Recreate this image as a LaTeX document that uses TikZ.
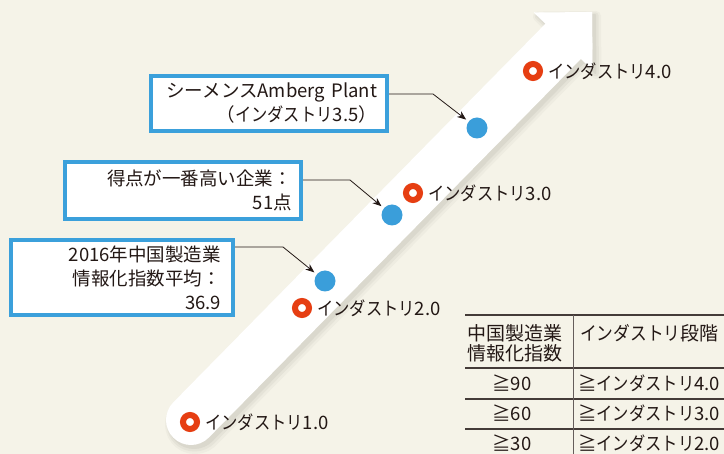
\documentclass[tikz,border=0pt]{standalone}
\usepackage{fontspec}
\setmainfont{Noto Sans CJK JP}
\newfontfamily\kanafont[FakeStretch=0.88]{Noto Sans CJK JP}
\newcommand\kn[1]{{\kanafont #1}}
\usetikzlibrary{arrows.meta}
\definecolor{bg}{RGB}{245,243,232}
\definecolor{sha}{RGB}{238,236,225}
\definecolor{shb}{RGB}{229,227,216}
\definecolor{shc}{RGB}{218,216,205}
\definecolor{boxblue}{RGB}{59,160,219}
\definecolor{dotblue}{RGB}{58,158,218}
\definecolor{ringred}{RGB}{230,62,18}
\definecolor{ink}{RGB}{35,24,21}
\newcommand\bandshape[4]{%
  \begin{scope}[shift={(#1,#1)}]
    \draw[#4,line width=#2pt,line cap=round] (191,420) -- (563.22,41.29);
    \filldraw[#4,line width=#3pt,line join=round] (533.98,12.55) -- (592,12) -- (592.46,70.03) -- cycle;
  \end{scope}}
\begin{document}
\begin{tikzpicture}[x=1pt,y=-1pt,
  box/.style={draw=boxblue,line width=4pt,fill=white,align=right,inner ysep=0pt,
    font=\fontsize{18.5}{24}\selectfont,text=ink},
  ringnode/.style={circle,draw=ringred,line width=6pt,fill=white,minimum size=14pt,inner sep=0pt},
  dotnode/.style={circle,fill=dotblue,minimum size=21pt,inner sep=0pt},
  conn/.style={draw=ink,line width=0.8pt,-{Stealth[length=9pt,width=7pt]},shorten >=3pt},
  lbl/.style={font=\fontsize{18.5}{22}\selectfont,text=ink,inner sep=0pt},
  rule/.style={draw=ink!85,line width=1.3pt},
  vrule/.style={draw=ink!70,line width=0.9pt},
  cell/.style={font=\fontsize{18.5}{20}\selectfont,text=ink,inner sep=0pt},
  hcell/.style={font=\fontsize{19}{20}\selectfont,text=ink,inner sep=0pt}]
\useasboundingbox (0,0) rectangle (724,454);
\clip (0,0) rectangle (724,454);
\fill[bg] (0,0) rectangle (724,454);
% band with soft shadow
\bandshape{4}{60}{10}{sha}
\bandshape{3.5}{56}{6}{shb}
\bandshape{3}{52}{2}{shc}
\bandshape{0}{50}{0.1}{white}
% rings
\node[ringnode,label={[lbl,label distance=5pt]right:\kn{インダストリ}1.0}] (r1) at (190,422) {};
\node[ringnode,label={[lbl,label distance=5pt]right:\kn{インダストリ}2.0}] (r2) at (302,308) {};
\node[ringnode,label={[lbl,label distance=5pt]right:\kn{インダストリ}3.0}] (r3) at (413,193) {};
\node[ringnode,label={[lbl,label distance=5pt]right:\kn{インダストリ}4.0}] (r4) at (533,71) {};
% dots
\node[dotnode] (d1) at (325,281) {};
\node[dotnode] (d2) at (392,215) {};
\node[dotnode] (d3) at (477,128) {};
% boxes
\node[box,minimum width=236pt,minimum height=55pt,text width=216pt,inner xsep=10pt] (b1) at (269,103.5)
  {シーメンスAmberg Plant\\（\kn{インダストリ}3.5）};
\node[box,minimum width=236pt,minimum height=57pt,text width=218pt,inner xsep=9pt] (b2) at (183,190.5)
  {得点が一番高い企業：\\51点};
\node[box,minimum width=222pt,minimum height=75pt,text width=198pt,inner xsep=12pt] (b3) at (122,277.5)
  {2016年中国製造業\\情報化指数平均：\\36.9};
% connectors
\coordinate (k1) at (433,94);
\coordinate (k2) at (350,180);
\coordinate (k3) at (283,247);
\draw[conn] (b1.east |- k1) -- (k1) -- (d3);
\draw[conn] (b2.east |- k2) -- (k2) -- (d2);
\draw[conn] (b3.east |- k3) -- (k3) -- (d1);
% table
\draw[rule] (465,315) -- (724,315);
\draw[rule] (465,368) -- (724,368);
\draw[rule] (465,399) -- (724,399);
\draw[rule] (465,429) -- (724,429);
\draw[vrule] (573,315) -- (573,454);
\node[hcell,anchor=west,align=left] (th1) at (467,343) {中国製造業\\情報化指数};
\node[hcell,anchor=base west] (th2) at (580,341) {\kn{インダストリ}段階};
\node[cell,anchor=base] (ta1) at (512,391) {≧90};
\node[cell,anchor=base west] (tb1) at (578,391) {≧\kn{インダストリ}4.0};
\node[cell,anchor=base] (ta2) at (512,421) {≧60};
\node[cell,anchor=base west] (tb2) at (578,421) {≧\kn{インダストリ}3.0};
\node[cell,anchor=base] (ta3) at (512,451) {≧30};
\node[cell,anchor=base west] (tb3) at (578,451) {≧\kn{インダストリ}2.0};
\end{tikzpicture}
\end{document}
